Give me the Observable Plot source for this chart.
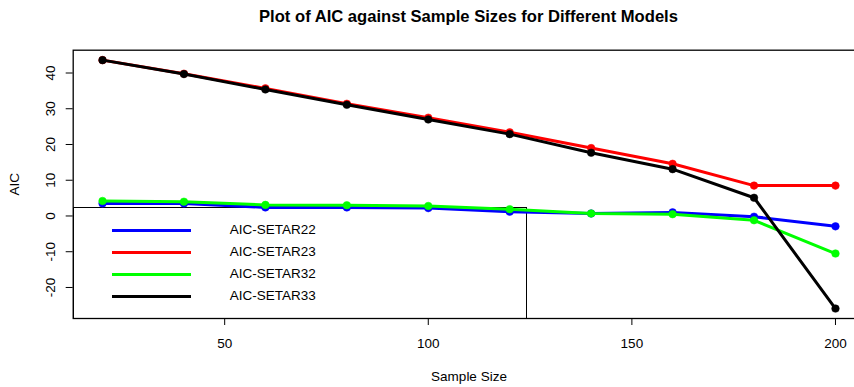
<!DOCTYPE html>
<html>
<head>
<meta charset="utf-8">
<script src="https://cdn.jsdelivr.net/npm/d3@7"></script>
<script src="https://cdn.jsdelivr.net/npm/@observablehq/plot@0.6"></script>
<style>
  html, body { margin: 0; padding: 0; background: white; }
  body { width: 854px; height: 387px; overflow: hidden; font-family: "Liberation Sans", Arial, sans-serif; }
  #wrap { position: relative; width: 854px; height: 387px; overflow: hidden; }
  #title { height: 36px; position: relative; }
  #title span { position: absolute; left: 468.5px; top: 7px; transform: translateX(-50%); white-space: nowrap;
    font-weight: bold; font-size: 16.6px; color: #000; }
  #legend { position: absolute; left: 72.7px; top: 206.7px; width: 452px; height: 110.5px; border: 1px solid #000; z-index: 0; }
  .litem { position: absolute; left: 0; height: 22px; width: 100%; }
  .litem .ln { position: absolute; left: 38.5px; width: 79px; height: 3px; top: 10px; }
  .litem .lt { position: absolute; left: 156px; top: 3px; font-size: 13.5px; line-height: 16px; color: #000; }
  #chart svg { position: relative; z-index: 1; display: block; }
</style>
</head>
<body>
<div id="wrap">
  <div id="title"><span></span></div>
  <div id="legend"></div>
  <div id="chart"></div>
</div>
<script>
// ---- data ----
const titleText = "Plot of AIC against Sample Sizes for Different Models";
const xLabel = "Sample Size";
const yLabel = "AIC";
const sampleSizes = [20, 40, 60, 80, 100, 120, 140, 160, 180, 200];
const aicSetar22 = [3.5, 3.5, 2.4, 2.4, 2.2, 1.2, 0.7, 1.0, -0.2, -2.9];
const aicSetar23 = [43.6, 39.8, 35.7, 31.4, 27.5, 23.4, 19.0, 14.6, 8.5, 8.5];
const aicSetar32 = [4.2, 4.0, 3.1, 3.0, 2.8, 1.9, 0.7, 0.5, -1.2, -10.5];
const aicSetar33 = [43.6, 39.7, 35.4, 31.1, 27.0, 22.9, 17.7, 13.1, 5.1, -25.9];
const seriesNames = ["AIC-SETAR22", "AIC-SETAR23", "AIC-SETAR32", "AIC-SETAR33"];
const seriesColors = ["#0000ff", "#ff0000", "#00ff00", "#000000"];
const xTicks = [50, 100, 150, 200];
const yTicks = [-20, -10, 0, 10, 20, 30, 40];

const seriesValues = [aicSetar22, aicSetar23, aicSetar32, aicSetar33];
const rows = seriesValues.flatMap((vals, i) =>
  vals.map((v, j) => ({series: seriesNames[i], x: sampleSizes[j], y: v})));

// R-style 4% padding of the data range
function pad(ext) { const d = (ext[1] - ext[0]) * 0.04; return [ext[0] - d, ext[1] + d]; }
const xDomain = pad(d3.extent(sampleSizes));
const yDomain = pad(d3.extent(rows, d => d.y));

document.querySelector("#title span").textContent = titleText;

const marks = [];
seriesNames.forEach((name, i) => {
  const data = rows.filter(r => r.series === name);
  marks.push(Plot.line(data, {x: "x", y: "y", stroke: seriesColors[i], strokeWidth: 3, strokeLinejoin: "round"}));
  marks.push(Plot.dot(data, {x: "x", y: "y", fill: seriesColors[i], r: 3.8, stroke: seriesColors[i], strokeWidth: 0.5}));
});
marks.push(Plot.frame({stroke: "#000", strokeWidth: 1.3}));
marks.push(Plot.axisX({ticks: xTicks, tickSize: 7, tickPadding: 13, fontSize: 13.5, tickFormat: d => String(d),
  label: xLabel, labelAnchor: "center", labelArrow: "none", labelOffset: 62}));
marks.push(Plot.axisY({ticks: yTicks, tickSize: 7, tickRotate: -90, tickPadding: 11, fontSize: 13.5, tickFormat: d => String(d),
  label: yLabel, labelAnchor: "center", labelArrow: "none", labelOffset: 64}));

const chart = Plot.plot({
  width: 854,
  height: 351,
  marginTop: 13.7,
  marginBottom: 69,
  marginLeft: 72.7,
  marginRight: 854 - 864.3,
  x: {domain: xDomain},
  y: {domain: yDomain},
  style: {fontFamily: "'Liberation Sans', Arial, sans-serif", fontSize: "13.5px", background: "transparent", color: "#000"},
  marks
});
document.getElementById("chart").appendChild(chart);

// legend
const legend = document.getElementById("legend");
seriesNames.forEach((name, i) => {
  const item = document.createElement("div");
  item.className = "litem";
  item.style.top = (11 + i * 22) + "px";
  const ln = document.createElement("div");
  ln.className = "ln";
  ln.style.background = seriesColors[i];
  const lt = document.createElement("div");
  lt.className = "lt";
  lt.textContent = name;
  item.appendChild(ln);
  item.appendChild(lt);
  legend.appendChild(item);
});
</script>
</body>
</html>
